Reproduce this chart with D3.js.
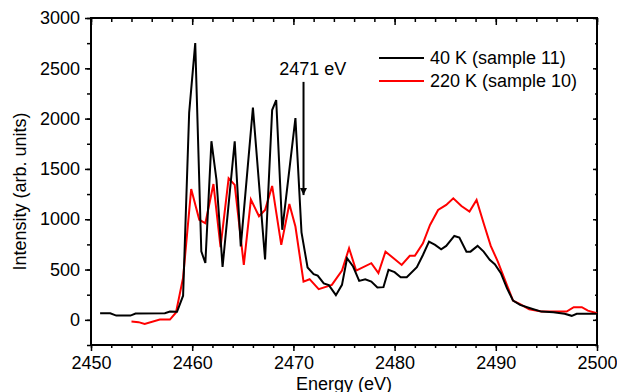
<!DOCTYPE html>
<html>
<head>
<meta charset="utf-8">
<script src="https://cdn.jsdelivr.net/npm/d3@7"></script>
<style>
  body { margin: 0; background: #fff; }
  svg text { font-family: Arial, "Liberation Sans", sans-serif; fill: #000; }
</style>
</head>
<body>
<div id="chart"></div>
<script>
// 40 K (sample 11)
var energy40 = [2450.9, 2451.9, 2452.5, 2453.9, 2454.4, 2457.3, 2457.8, 2458.5, 2459.1, 2459.7,
  2460.3, 2460.9, 2461.3, 2461.9, 2462.4, 2463.0, 2464.2, 2464.8, 2466.0, 2467.2,
  2467.9, 2468.3, 2468.9, 2470.2, 2470.8, 2471.4, 2472.0, 2472.4, 2473.0, 2473.5,
  2474.2, 2474.8, 2475.3, 2475.9, 2476.5, 2477.1, 2477.7, 2478.3, 2478.9, 2479.4,
  2480.0, 2480.6, 2481.2, 2482.2, 2482.8, 2483.4, 2484.0, 2484.6, 2485.1, 2485.9,
  2486.4, 2487.1, 2487.5, 2488.2, 2488.8, 2489.4, 2489.9, 2490.5, 2491.1, 2491.7,
  2492.4, 2493.4, 2494.5, 2495.7, 2496.8, 2497.5, 2498.0, 2500.0];
var intensity40 = [65, 65, 42, 42, 62, 65, 82, 80, 240, 2060,
  2750, 680, 565, 1775, 1390, 525, 1775, 730, 2110, 600,
  2085, 2185, 895, 2005, 870, 520, 455, 440, 362, 345,
  245, 348, 612, 530, 387, 404, 381, 321, 325, 497,
  474, 424, 424, 523, 645, 778, 745, 702, 735, 834,
  817, 678, 678, 735, 678, 596, 553, 464, 315, 192,
  149, 116, 82, 76, 60, 40, 60, 60];

// 220 K (sample 10)
var energy220 = [2454.0, 2454.7, 2455.3, 2456.8, 2457.8, 2458.4, 2459.1, 2459.9, 2460.7, 2461.3,
  2462.1, 2462.8, 2463.6, 2464.2, 2465.1, 2465.8, 2466.6, 2467.2, 2467.9, 2468.8,
  2469.6, 2470.2, 2471.0, 2471.6, 2472.5, 2473.8, 2474.8, 2475.5, 2476.2, 2477.7,
  2478.4, 2479.1, 2479.9, 2480.7, 2481.5, 2482.0, 2482.8, 2483.5, 2484.3, 2485.1,
  2485.8, 2486.6, 2487.4, 2488.1, 2488.8, 2489.5, 2490.2, 2490.9, 2491.7, 2492.4,
  2493.3, 2494.5, 2497.0, 2497.7, 2498.5, 2499.1, 2500.0];
var intensity220 = [-17, -23, -40, 3, 3, 73, 420, 1300, 995, 960,
  1350, 722, 1407, 1341, 546, 1195, 1030, 1092, 1331, 745,
  1152, 927, 380, 404, 305, 348, 490, 712, 490, 563,
  464, 678, 612, 546, 636, 636, 761, 943, 1092, 1142,
  1208, 1132, 1076, 1192, 960, 735, 579, 397, 192, 156,
  106, 82, 82, 126, 126, 92, 66];

var seriesNames = ["40 K (sample 11)", "220 K (sample 10)"];
var seriesColors = ["#000000", "#ff0000"];

var xTicks = [2450, 2460, 2470, 2480, 2490, 2500];
var yTicks = [0, 500, 1000, 1500, 2000, 2500, 3000];

var fontSize = "18px";
var width = 617, height = 392;
var margin = { top: 18, right: 20, bottom: 47, left: 91 };
var innerW = width - margin.left - margin.right;
var innerH = height - margin.top - margin.bottom;

var svg = d3.select("#chart").append("svg")
  .attr("width", width)
  .attr("height", height);

var x = d3.scaleLinear().domain([2450, 2500]).range([margin.left, margin.left + innerW]);
var y = d3.scaleLinear().domain([-250, 3000]).range([margin.top + innerH, margin.top]);

var minorX = d3.range(2450, 2501, 2);
var minorY = d3.range(-250, 3001, 250);

function styleAxis(g) {
  g.select(".domain").remove();
  g.selectAll(".tick line").attr("stroke", "#000").attr("stroke-width", 1.5);
  g.selectAll(".tick text").style("font-size", fontSize);
}

// bottom axis (outward ticks)
svg.append("g")
  .attr("transform", "translate(0," + (margin.top + innerH) + ")")
  .call(d3.axisBottom(x).tickValues(minorX).tickSize(3).tickFormat(""))
  .call(styleAxis);
svg.append("g")
  .attr("transform", "translate(0," + (margin.top + innerH) + ")")
  .call(d3.axisBottom(x).tickValues(xTicks).tickSize(6).tickPadding(5).tickFormat(d3.format("d")))
  .call(styleAxis);

// top axis (inward ticks)
svg.append("g")
  .attr("transform", "translate(0," + margin.top + ")")
  .call(d3.axisBottom(x).tickValues(minorX).tickSize(4).tickFormat(""))
  .call(styleAxis);
svg.append("g")
  .attr("transform", "translate(0," + margin.top + ")")
  .call(d3.axisBottom(x).tickValues(xTicks).tickSize(7).tickFormat(""))
  .call(styleAxis);

// left axis (outward ticks)
svg.append("g")
  .attr("transform", "translate(" + margin.left + ",0)")
  .call(d3.axisLeft(y).tickValues(minorY).tickSize(4).tickFormat(""))
  .call(styleAxis);
svg.append("g")
  .attr("transform", "translate(" + margin.left + ",0)")
  .call(d3.axisLeft(y).tickValues(yTicks).tickSize(6).tickPadding(5).tickFormat(d3.format("d")))
  .call(styleAxis);

// right axis (inward ticks)
svg.append("g")
  .attr("transform", "translate(" + (margin.left + innerW) + ",0)")
  .call(d3.axisLeft(y).tickValues(minorY).tickSize(2).tickFormat(""))
  .call(styleAxis);
svg.append("g")
  .attr("transform", "translate(" + (margin.left + innerW) + ",0)")
  .call(d3.axisLeft(y).tickValues(yTicks).tickSize(4).tickFormat(""))
  .call(styleAxis);

// frame
svg.append("rect")
  .attr("x", margin.left)
  .attr("y", margin.top)
  .attr("width", innerW)
  .attr("height", innerH)
  .attr("fill", "none")
  .attr("stroke", "#000")
  .attr("stroke-width", 2);

// lines
var line = d3.line()
  .x(function (d) { return x(d[0]); })
  .y(function (d) { return y(d[1]); });

var series = [
  d3.zip(energy220, intensity220),
  d3.zip(energy40, intensity40)
];
var seriesColorsDraw = [seriesColors[1], seriesColors[0]];

svg.selectAll(".series")
  .data(series)
  .enter()
  .append("path")
  .attr("class", "series")
  .attr("d", line)
  .attr("fill", "none")
  .attr("stroke", function (d, i) { return seriesColorsDraw[i]; })
  .attr("stroke-width", 2)
  .attr("stroke-linejoin", "miter");

// arrow at 2471 eV
svg.append("defs").append("marker")
  .attr("id", "arrowhead")
  .attr("viewBox", "0 0 10 10")
  .attr("refX", 10)
  .attr("refY", 5)
  .attr("markerWidth", 4)
  .attr("markerHeight", 3.5)
  .attr("markerUnits", "strokeWidth")
  .attr("orient", "auto")
  .append("path")
  .attr("d", "M0,0 L10,5 L0,10 Z")
  .attr("fill", "#000");

svg.append("line")
  .attr("x1", x(2471))
  .attr("x2", x(2471))
  .attr("y1", y(2365))
  .attr("y2", y(1240))
  .attr("stroke", "#000")
  .attr("stroke-width", 2)
  .attr("marker-end", "url(#arrowhead)");

svg.append("text")
  .attr("x", x(2468.6))
  .attr("y", y(2433))
  .style("font-size", fontSize)
  .text("2471 eV");

// legend
var legend = svg.append("g");
seriesNames.forEach(function (name, i) {
  var ly = 58 + i * 23;
  legend.append("line")
    .attr("x1", 379).attr("x2", 424)
    .attr("y1", ly).attr("y2", ly)
    .attr("stroke", seriesColors[i])
    .attr("stroke-width", 2);
  legend.append("text")
    .attr("x", 430)
    .attr("y", ly + 6)
    .style("font-size", fontSize)
    .text(name);
});

// axis titles
svg.append("text")
  .attr("x", (margin.left + margin.left + innerW) / 2)
  .attr("y", 390)
  .attr("text-anchor", "middle")
  .style("font-size", fontSize)
  .text("Energy (eV)");

svg.append("text")
  .attr("transform", "translate(26," + (margin.top + innerH / 2 + 10) + ") rotate(-90)")
  .attr("text-anchor", "middle")
  .style("font-size", fontSize)
  .text("Intensity (arb. units)");
</script>
</body>
</html>
